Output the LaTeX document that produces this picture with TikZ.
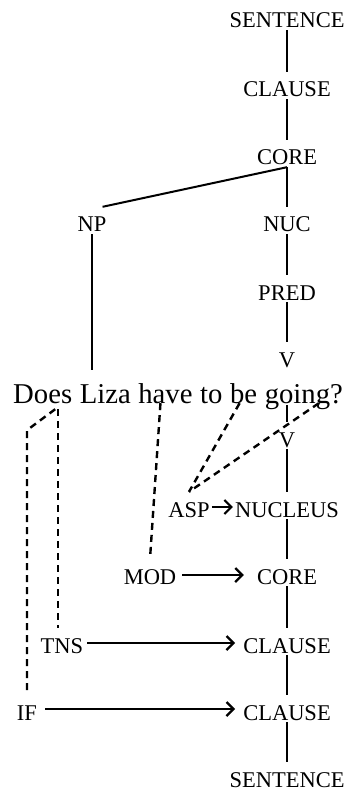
\documentclass[tikz,border=0pt]{standalone}
\usepackage{fontspec}
\setmainfont{Liberation Serif}
\usetikzlibrary{arrows.meta,positioning,calc}
\begin{document}
\begin{tikzpicture}[x=1pt,y=-1pt,
  lab/.style={font=\fontsize{22.5pt}{27pt}\selectfont, inner sep=2pt,
              text height=23pt, text depth=0pt, anchor=base},
  word/.style={font=\fontsize{28.7pt}{34pt}\selectfont, inner xsep=0pt,
               inner ysep=2pt, text height=31pt, text depth=0pt},
  tree/.style={line width=2pt},
  link/.style={line width=2.4pt, dash pattern=on 7pt off 5pt},
  arr/.style={line width=2.2pt, -{Straight Barb[length=7pt,width=14pt]}}
]
\useasboundingbox (0,0) rectangle (347,791);

% syntactic projection (above the sentence)
\node[lab] (s1)   at (287,28)  {SENTENCE};
\node[lab] (cl1)  at (287,97)  {CLAUSE};
\node[lab] (co1)  at (287,165) {CORE};
\node[lab] (np)   at (92,232)  {NP};
\node[lab] (nuc)  at (287,232) {NUC};
\node[lab] (pred) at (287,300) {PRED};
\node[lab] (v1)   at (287,367) {V};

% the sentence, one node per word
\node[word, anchor=base west] (does) at (13,403) {Does};
\node[word, base right=7.2pt of does]  (liza)  {Liza};
\node[word, base right=7.2pt of liza]  (have)  {have};
\node[word, base right=7.2pt of have]  (to)    {to};
\node[word, base right=7.2pt of to]    (be)    {be};
\node[word, base right=7.2pt of be]    (going) {going?};

% operator projection (below the sentence)
\node[lab] (v2)  at (287,447) {V};
\node[lab] (asp) at (189,517) {ASP};
\node[lab] (nucl) at (287,517) {NUCLEUS};
\node[lab] (mod) at (150,584) {MOD};
\node[lab] (co2) at (287,584) {CORE};
\node[lab] (tns) at (62,653)  {TNS};
\node[lab] (cl2) at (287,653) {CLAUSE};
\node[lab] (if)  at (27,720)  {IF};
\node[lab] (cl3) at (287,720) {CLAUSE};
\node[lab] (s2)  at (287,787) {SENTENCE};

% constituent tree
\draw[tree] (s1.south) -- (cl1.north);
\draw[tree] (cl1.south) -- (co1.north);
\draw[tree] (co1.south) -- (nuc.north);
\draw[tree] (co1.south) -- ([xshift=-6pt]np.north east);
\draw[tree] (nuc.south) -- (pred.north);
\draw[tree] (pred.south) -- (v1.north);
\draw[tree] (np.south) -- (np.south |- liza.north);

% operator tree
\draw[tree] (v2.north |- going.south) -- (v2.north);
\draw[tree] (v2.south) -- (nucl.north);
\draw[tree] (nucl.south) -- (co2.north);
\draw[tree] (co2.south) -- (cl2.north);
\draw[tree] (cl2.south) -- (cl3.north);
\draw[tree] (cl3.south) -- (s2.north);

% operators linked to the words that express them
\coordinate (doesA) at ($(does.south)+(12.5,4)$);
\coordinate (doesB) at ($(does.south)+(15.5,4)$);
\coordinate (ifbend) at ($(if.north |- doesA)+(0,21)$);
\draw[link] (doesA) -- (ifbend) -- (if.north);
\draw[link] (doesB) -- (doesB |- tns.north);
\draw[link] ($(have.south)+(-5,-2)$) -- (mod.north);
\draw[link] ($(be.south)+(-4,-2)$) -- (asp.north);
\draw[link] ($(going.south)+(15,-2)$) -- (asp.north);

% operator scope arrows
\draw[arr, shorten <=0pt, shorten >=0pt]
  ([yshift=10pt]asp.base east) -- ([yshift=10pt]nucl.base west);
\draw[arr, shorten <=4pt, shorten >=11pt]
  ([yshift=9pt]mod.base east) -- ([yshift=9pt]co2.base west);
\draw[arr, shorten <=2pt, shorten >=6pt]
  ([yshift=10pt]tns.base east) -- ([yshift=10pt]cl2.base west);
\draw[arr, shorten <=6pt, shorten >=6pt]
  ([yshift=11pt]if.base east) -- ([yshift=11pt]cl3.base west);
\end{tikzpicture}
\end{document}
